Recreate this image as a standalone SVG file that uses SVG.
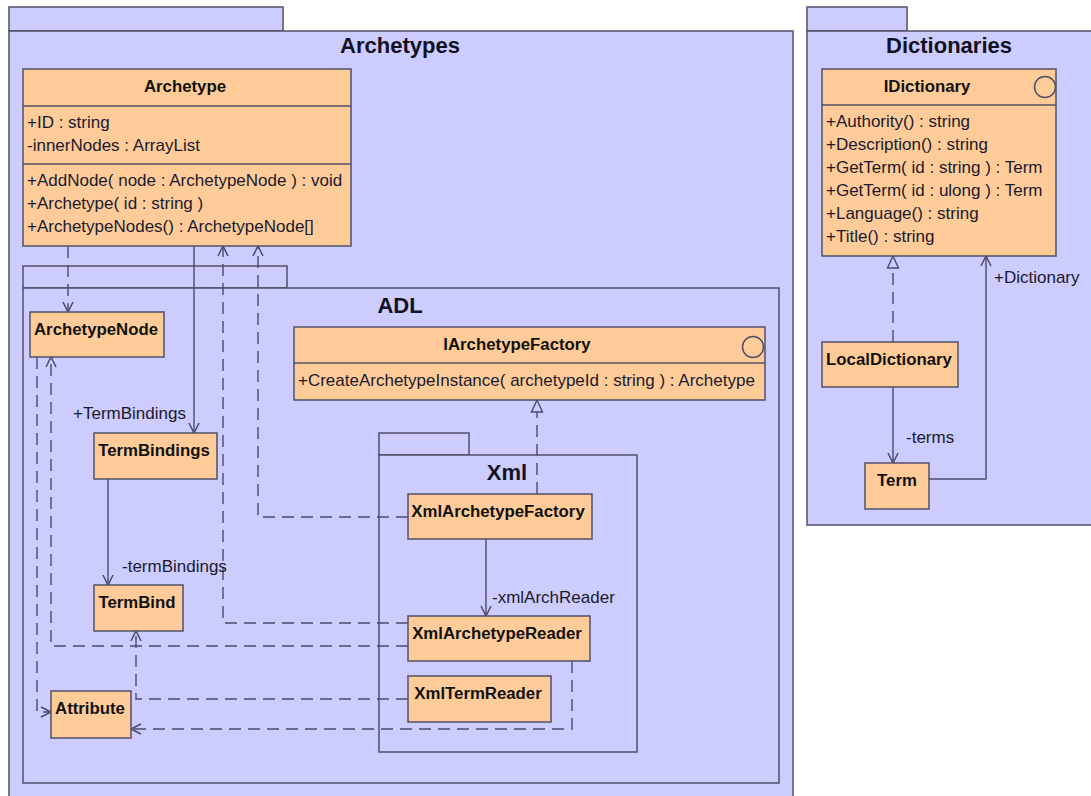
<svg xmlns="http://www.w3.org/2000/svg" width="1091" height="796" viewBox="0 0 1091 796">
  <style>
    .pkg { fill: #ccccff; stroke: #505068; stroke-width: 1.5; }
    .cls { fill: #ffcc99; stroke: #505068; stroke-width: 1.5; }
    .sep { stroke: #505068; stroke-width: 1.5; fill: none; }
    .icon { fill: none; stroke: #505068; stroke-width: 1.5; }
    .ptitle { font-family: "Liberation Sans", Arial, sans-serif; font-size: 22px; font-weight: bold; fill: #111122; text-anchor: middle; }
    .cname { font-family: "Liberation Sans", Arial, sans-serif; font-size: 16.8px; font-weight: bold; fill: #111111; text-anchor: middle; }
    .member { font-family: "Liberation Sans", Arial, sans-serif; font-size: 17px; fill: #1a1a2e; }
    .lbl { font-family: "Liberation Sans", Arial, sans-serif; font-size: 17px; fill: #1a1a2e; }
    .assoc { fill: none; stroke: #4b4b6b; stroke-width: 1.4; marker-end: url(#open); }
    .dep { fill: none; stroke: #4b4b6b; stroke-width: 1.4; stroke-dasharray: 12 7; marker-end: url(#open); }
    .real { fill: none; stroke: #4b4b6b; stroke-width: 1.4; stroke-dasharray: 12 7; marker-end: url(#hollow); }
  </style>
  <defs>
    <marker id="open" markerUnits="userSpaceOnUse" markerWidth="13" markerHeight="13" refX="11" refY="6.5" orient="auto">
      <path d="M1,1.5 L11,6.5 L1,11.5" fill="none" stroke="#4b4b6b" stroke-width="1.5" stroke-dasharray="none"/>
    </marker>
    <marker id="hollow" markerUnits="userSpaceOnUse" markerWidth="14" markerHeight="14" refX="13" refY="7" orient="auto">
      <path d="M1,1.5 L13,7 L1,12.5 Z" fill="#ccccff" stroke="#4b4b6b" stroke-width="1.4" stroke-dasharray="none"/>
    </marker>
  </defs>

  <!-- packages -->
  <g id="pkg-archetypes">
    <rect class="pkg" x="9" y="7" width="274" height="24"/>
    <rect class="pkg" x="9" y="31" width="784" height="775"/>
    <text class="ptitle" x="400" y="53">Archetypes</text>
  </g>
  <g id="pkg-dictionaries">
    <rect class="pkg" x="807" y="7" width="100" height="24"/>
    <rect class="pkg" x="807" y="31" width="300" height="494"/>
    <text class="ptitle" x="949" y="53">Dictionaries</text>
  </g>
  <g id="pkg-adl">
    <rect class="pkg" x="23" y="266" width="264" height="22"/>
    <rect class="pkg" x="23" y="288" width="756" height="495"/>
    <text class="ptitle" x="400" y="313">ADL</text>
  </g>
  <g id="pkg-xml">
    <rect class="pkg" x="379" y="433" width="90" height="22"/>
    <rect class="pkg" x="379" y="455" width="258" height="297"/>
    <text class="ptitle" x="507" y="480">Xml</text>
  </g>

  <!-- connectors -->
  <g id="connectors">
    <path class="dep" d="M68,246 V312"/>
    <path class="assoc" d="M194,246 V433"/>
    <path class="assoc" d="M108,479 V585"/>
    <path class="dep" d="M408,517 H258 V246"/>
    <path class="dep" d="M408,623 H223 V246"/>
    <path class="dep" d="M408,646 H51 V357"/>
    <path class="dep" d="M37,357 V712 H51"/>
    <path class="dep" d="M408,699 H136 V631"/>
    <path class="dep" d="M572,661 V729 H131"/>
    <path class="real" d="M537,494 V400"/>
    <path class="assoc" d="M486,539 V616"/>
    <path class="real" d="M893,342 V256"/>
    <path class="assoc" d="M893,387 V463"/>
    <path class="assoc" d="M929,479 H986 V256"/>
    <text class="lbl" x="73" y="419">+TermBindings</text>
    <text class="lbl" x="122" y="572">-termBindings</text>
    <text class="lbl" x="492" y="603">-xmlArchReader</text>
    <text class="lbl" x="906" y="443">-terms</text>
    <text class="lbl" x="994" y="283">+Dictionary</text>
  </g>

  <!-- classes -->
  <g id="Archetype">
    <rect class="cls" x="23" y="69" width="328" height="177"/>
    <line class="sep" x1="23" y1="106" x2="351" y2="106"/>
    <line class="sep" x1="23" y1="164" x2="351" y2="164"/>
    <text class="cname" x="185" y="92">Archetype</text>
    <text class="member" x="27" y="128">+ID : string</text>
    <text class="member" x="27" y="151">-innerNodes : ArrayList</text>
    <text class="member" x="27" y="186">+AddNode( node : ArchetypeNode ) : void</text>
    <text class="member" x="27" y="209">+Archetype( id : string )</text>
    <text class="member" x="27" y="232">+ArchetypeNodes() : ArchetypeNode[]</text>
  </g>
  <g id="IDictionary">
    <rect class="cls" x="822" y="69" width="234" height="187"/>
    <line class="sep" x1="822" y1="105" x2="1056" y2="105"/>
    <circle class="icon" cx="1045" cy="87" r="10.5"/>
    <text class="cname" x="927" y="92">IDictionary</text>
    <text class="member" x="826" y="127">+Authority() : string</text>
    <text class="member" x="826" y="150">+Description() : string</text>
    <text class="member" x="826" y="173">+GetTerm( id : string ) : Term</text>
    <text class="member" x="826" y="196">+GetTerm( id : ulong ) : Term</text>
    <text class="member" x="826" y="219">+Language() : string</text>
    <text class="member" x="826" y="242">+Title() : string</text>
  </g>
  <g id="LocalDictionary">
    <rect class="cls" x="822" y="342" width="136" height="45"/>
    <text class="cname" x="889" y="365">LocalDictionary</text>
  </g>
  <g id="Term">
    <rect class="cls" x="865" y="463" width="64" height="46"/>
    <text class="cname" x="897" y="486">Term</text>
  </g>
  <g id="ArchetypeNode">
    <rect class="cls" x="30" y="312" width="134" height="45"/>
    <text class="cname" x="96" y="335">ArchetypeNode</text>
  </g>
  <g id="IArchetypeFactory">
    <rect class="cls" x="294" y="327" width="471" height="73"/>
    <line class="sep" x1="294" y1="363" x2="765" y2="363"/>
    <circle class="icon" cx="753" cy="347" r="10.5"/>
    <text class="cname" x="517" y="350">IArchetypeFactory</text>
    <text class="member" x="298" y="386">+CreateArchetypeInstance( archetypeId : string ) : Archetype</text>
  </g>
  <g id="TermBindings">
    <rect class="cls" x="94" y="433" width="123" height="46"/>
    <text class="cname" x="154" y="456">TermBindings</text>
  </g>
  <g id="TermBind">
    <rect class="cls" x="94" y="585" width="89" height="46"/>
    <text class="cname" x="137" y="608">TermBind</text>
  </g>
  <g id="Attribute">
    <rect class="cls" x="51" y="691" width="80" height="47"/>
    <text class="cname" x="90" y="714">Attribute</text>
  </g>
  <g id="XmlArchetypeFactory">
    <rect class="cls" x="408" y="494" width="184" height="45"/>
    <text class="cname" x="498" y="517">XmlArchetypeFactory</text>
  </g>
  <g id="XmlArchetypeReader">
    <rect class="cls" x="408" y="616" width="182" height="45"/>
    <text class="cname" x="497" y="639">XmlArchetypeReader</text>
  </g>
  <g id="XmlTermReader">
    <rect class="cls" x="408" y="676" width="143" height="46"/>
    <text class="cname" x="478" y="699">XmlTermReader</text>
  </g>
</svg>
